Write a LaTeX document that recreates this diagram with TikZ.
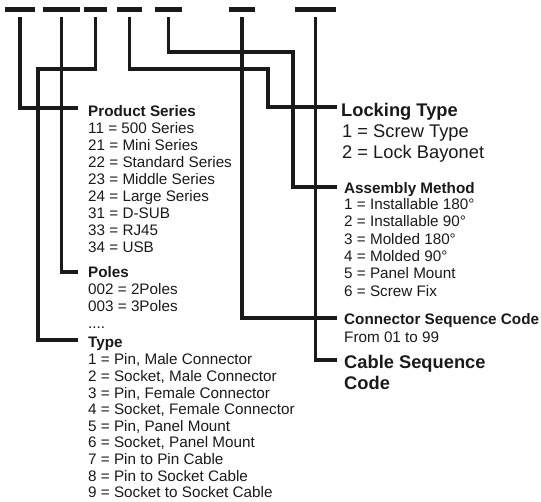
\documentclass[tikz,border=0pt]{standalone}
\usepackage{fontspec}
\setmainfont{Liberation Sans}
\definecolor{ink}{HTML}{1A1A1A}
\tikzset{
  bar/.style={fill=ink, inner sep=0pt, minimum height=5pt},
  wire/.style={draw=ink, line width=3.2pt, line join=miter, line cap=butt},
  hd/.style={anchor=base west, inner sep=0pt, text=ink, font=\fontsize{15.25}{17}\selectfont\bfseries},
  lst/.style={anchor=base west, inner sep=0pt, text=ink, font=\fontsize{15.25}{17}\selectfont},
  bighd/.style={anchor=base west, inner sep=0pt, text=ink, font=\fontsize{18.3}{21}\selectfont\bfseries},
  big/.style={anchor=base west, inner sep=0pt, text=ink, font=\fontsize{18.3}{21}\selectfont}
}
\begin{document}
\begin{tikzpicture}[x=1pt,y=-1pt]
\useasboundingbox (0,0) rectangle (541,501);
% code bars
\node[bar, minimum width=30pt] (b1) at (20,9) {};
\node[bar, minimum width=37pt] (b2) at (61.5,9) {};
\node[bar, minimum width=23pt] (b3) at (95.5,9) {};
\node[bar, minimum width=25pt] (b4) at (129.5,9) {};
\node[bar, minimum width=27pt] (b5) at (168.5,9) {};
\node[bar, minimum width=26pt] (b6) at (242,9) {};
\node[bar, minimum width=41pt] (b7) at (315.5,9) {};
% connector ends
\coordinate (psIn) at (78,108);
\coordinate (poIn) at (78,272);
\coordinate (tyIn) at (78,340);
\coordinate (lkIn) at (337,107);
\coordinate (asIn) at (337,187);
\coordinate (csIn) at (337,318);
\coordinate (cbIn) at (337,360);
% connectors
\draw[wire] ([yshift=-5.5pt]b1.south) |- (psIn);
\draw[wire] ([yshift=-5.5pt]b2.south) |- (poIn);
\draw[wire] ([yshift=-5.5pt]b3.south) |- (38,69) |- (tyIn);
\draw[wire] ([yshift=-5.5pt]b4.south) |- (268,69) |- (lkIn);
\draw[wire] ([yshift=-5.5pt]b5.south) |- (293,52) |- (asIn);
\draw[wire] ([yshift=-5.5pt]b6.south) |- (csIn);
\draw[wire] ([yshift=-5.5pt]b7.south) |- (cbIn);
% Product Series
\node[hd] (psH) at (88,116) {Product Series};
\foreach \t [count=\i] in {{11 = 500 Series},{21 = Mini Series},{22 = Standard Series},{23 = Middle Series},{24 = Large Series},{31 = D-SUB},{33 = RJ45},{34 = USB}}
  \node[lst] (ps\i) at (88,{133+17*(\i-1)}) {\t};
% Poles
\node[hd] (poH) at (88,277) {Poles};
\node[lst] (po1) at (88,294) {002 = 2Poles};
\node[lst] (po2) at (88,311) {003 = 3Poles};
\node[lst] (po3) at (88,328) {....};
% Type
\node[hd] (tyH) at (88,347) {Type};
\foreach \t [count=\i] in {{1 = Pin, Male Connector},{2 = Socket, Male Connector},{3 = Pin, Female Connector},{4 = Socket, Female Connector},{5 = Pin, Panel Mount},{6 = Socket, Panel Mount},{7 = Pin to Pin Cable},{8 = Pin to Socket Cable},{9 = Socket to Socket Cable}}
  \node[lst] (ty\i) at (88,{364.8+16.6*(\i-1)}) {\t};
% Locking Type
\node[bighd] (lkH) at (341,116.5) {Locking Type};
\node[big] (lk1) at (342,137.5) {1 = Screw Type};
\node[big] (lk2) at (342,158.5) {2 = Lock Bayonet};
% Assembly Method
\node[hd] (asH) at (344,193) {Assembly Method};
\foreach \t [count=\i] in {{1 = Installable 180°},{2 = Installable 90°},{3 = Molded 180°},{4 = Molded 90°},{5 = Panel Mount},{6 = Screw Fix}}
  \node[lst] (as\i) at (344,{209.5+17.3*(\i-1)}) {\t};
% Connector Sequence Code
\node[hd] (csH) at (344,324) {Connector Sequence Code};
\node[lst] (cs1) at (344,342) {From 01 to 99};
% Cable Sequence Code
\node[bighd] (cbH1) at (344,368) {Cable Sequence};
\node[bighd] (cbH2) at (344,389) {Code};
\end{tikzpicture}
\end{document}
